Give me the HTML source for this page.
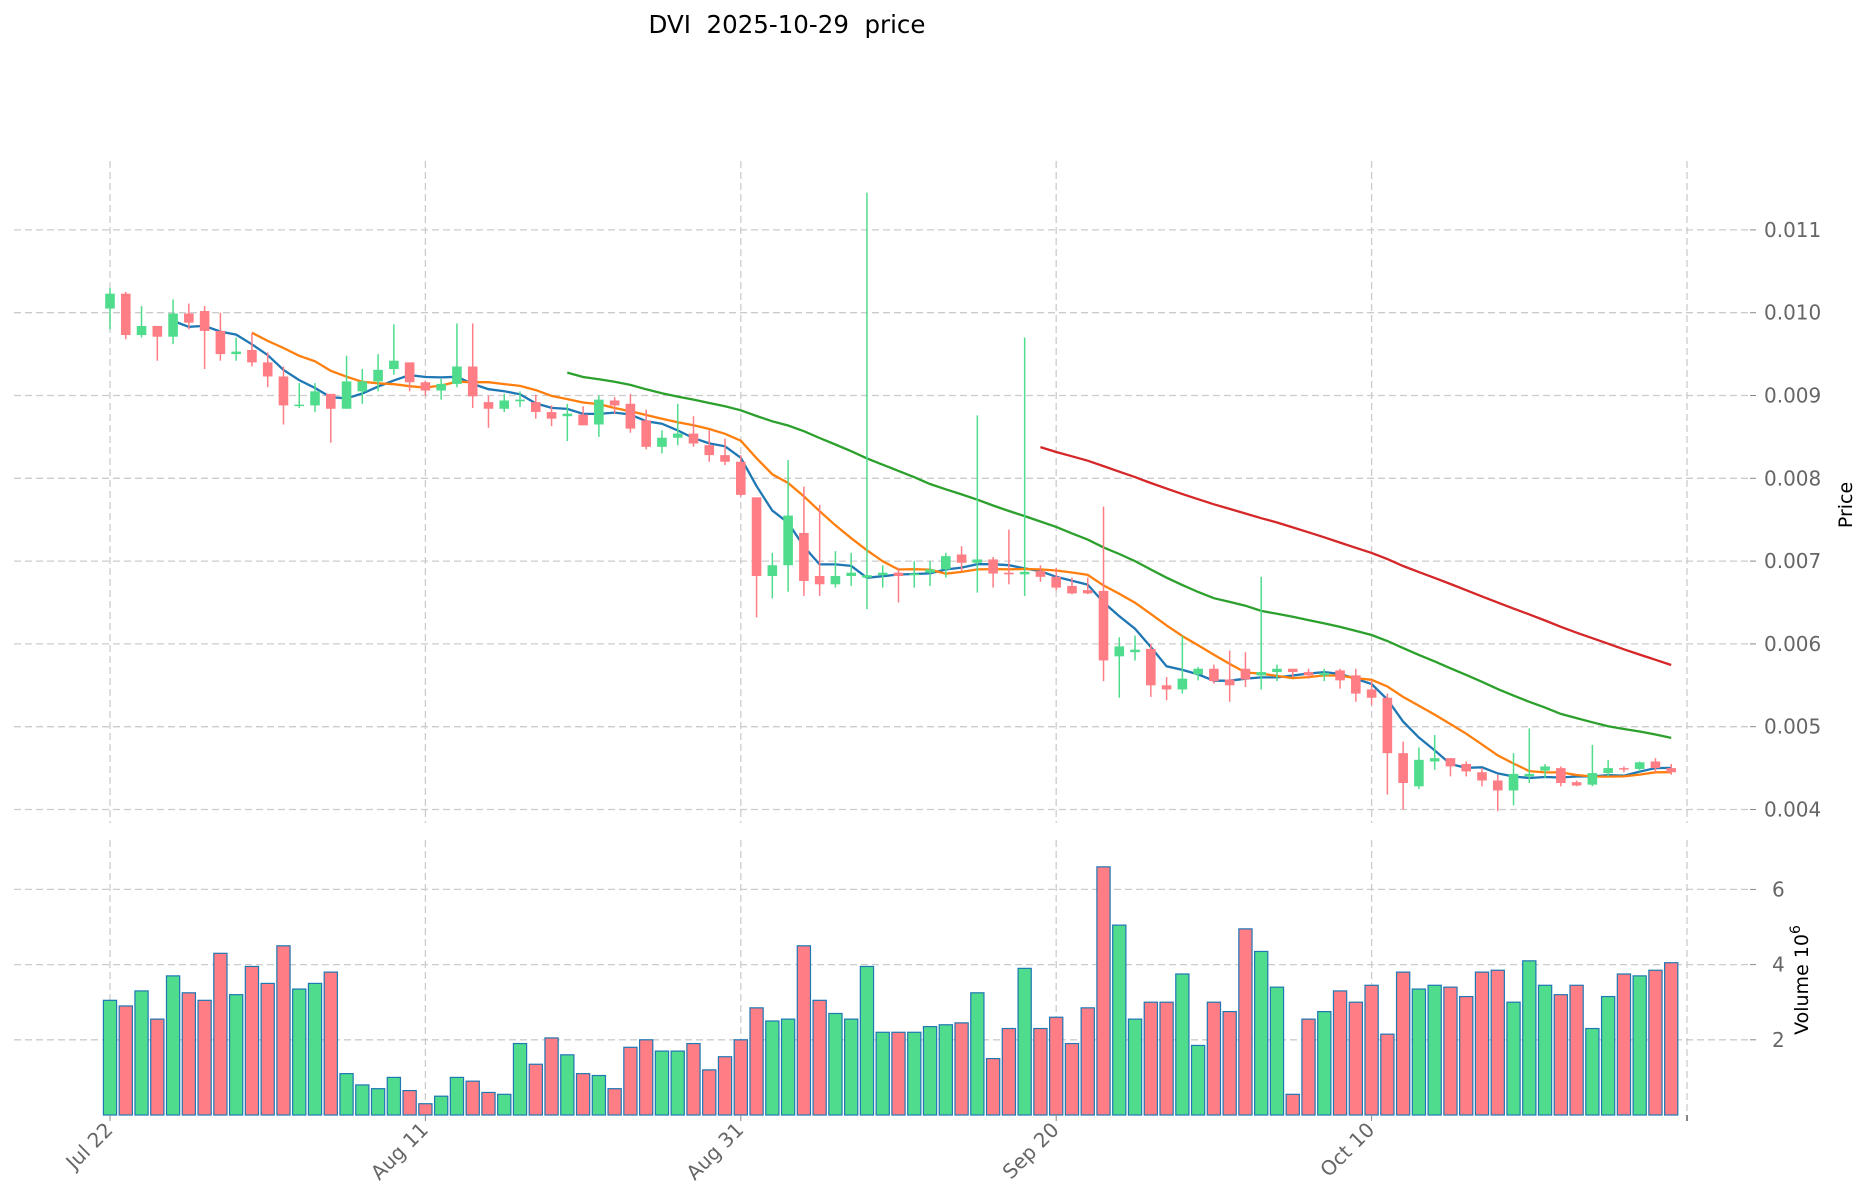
<!DOCTYPE html>
<html><head><meta charset="utf-8">
<style>
html,body{margin:0;padding:0;background:#fff;}
svg{display:block;font-family:"DejaVu Sans","Liberation Sans",sans-serif;}
</style></head>
<body>
<svg id="chart" width="1860" height="1202" viewBox="0 0 1860 1202" xmlns="http://www.w3.org/2000/svg">
<text x="787" y="33" font-size="24.5" text-anchor="middle" fill="#000" style="white-space:pre" xml:space="preserve">DVI  2025-10-29  price</text>
<g id="grid"></g>
<g id="ma"></g>
<g id="candles"></g>
<g id="vol"></g>
<g id="axes"></g>
<text transform="translate(1852,505) rotate(-90)" font-size="19" text-anchor="middle" fill="#000">Price</text>
<text transform="translate(1808,980) rotate(-90)" font-size="19" text-anchor="middle" fill="#000">Volume  10<tspan dy="-8" font-size="14">6</tspan></text>
</svg>
<script>
const dateLabels=["Jul 22","Aug 11","Aug 31","Sep 20","Oct 10"];
const dateLabelIdx=[0,20,40,60,80];
const opens=[.01005,.01023,.00973,.00984,.00971,.00999,.01002,.00978,.00950,.00955,.00940,.00923,.00888,.00888,.00902,.00884,.00905,.00917,.00932,.00940,.00916,.00906,.00914,.00935,.00892,.00884,.00893,.00892,.00880,.00875,.00877,.00865,.00894,.00890,.00870,.00838,.00849,.00854,.00840,.00828,.00820,.00777,.00682,.00695,.00734,.00682,.00672,.00682,.00680,.00683,.00686,.00683,.00686,.00690,.00708,.00698,.00702,.00686,.00684,.00688,.00681,.00670,.00665,.00664,.00585,.00590,.00594,.00550,.00545,.00563,.00570,.00557,.00570,.00562,.00566,.00570,.00566,.00562,.00568,.00562,.00545,.00535,.00468,.00428,.00458,.00462,.00455,.00445,.00435,.00423,.00440,.00447,.00450,.00433,.00430,.00444,.00450,.00449,.00458,.00450];
const closes=[.01023,.00973,.00984,.00971,.00999,.00988,.00978,.00950,.00953,.00940,.00923,.00888,.00889,.00905,.00884,.00917,.00917,.00931,.00942,.00916,.00906,.00914,.00935,.00899,.00884,.00894,.00895,.00880,.00872,.00878,.00864,.00895,.00888,.00860,.00838,.00849,.00854,.00842,.00828,.00820,.00780,.00682,.00695,.00755,.00676,.00672,.00682,.00686,.00683,.00686,.00682,.00685,.00690,.00706,.00698,.00702,.00685,.00684,.00687,.00681,.00668,.00661,.00661,.00580,.00597,.00593,.00550,.00545,.00558,.00570,.00555,.00550,.00557,.00566,.00570,.00566,.00562,.00565,.00556,.00540,.00535,.00468,.00432,.00460,.00462,.00452,.00446,.00435,.00423,.00443,.00443,.00452,.00432,.00429,.00444,.00450,.00449,.00457,.00450,.00445];
const highs=[.01030,.01025,.01008,.00984,.01016,.01011,.01008,.01000,.00970,.00975,.00952,.00935,.00915,.00915,.00900,.00948,.00932,.00950,.00986,.00940,.00918,.00920,.00987,.00987,.00900,.00902,.00905,.00901,.00888,.00890,.00887,.00900,.00898,.00902,.00883,.00858,.00890,.00875,.00858,.00848,.00828,.00777,.00710,.00822,.00790,.00768,.00712,.00710,.01145,.00695,.00692,.00700,.00700,.00710,.00718,.00876,.00705,.00738,.00970,.00695,.00692,.00680,.00680,.00766,.00608,.00610,.00600,.00560,.00610,.00572,.00575,.00592,.00590,.00681,.00575,.00570,.00570,.00570,.00570,.00570,.00556,.00540,.00482,.00475,.00490,.00462,.00458,.00450,.00442,.00468,.00498,.00455,.00452,.00435,.00478,.00460,.00452,.00458,.00462,.00455];
const lows=[.00980,.00968,.00970,.00942,.00962,.00980,.00932,.00942,.00942,.00935,.00910,.00865,.00885,.00880,.00843,.00884,.00890,.00905,.00925,.00905,.00900,.00895,.00910,.00885,.00861,.00880,.00886,.00872,.00863,.00845,.00864,.00850,.00878,.00855,.00835,.00830,.00840,.00838,.00820,.00816,.00778,.00632,.00655,.00663,.00658,.00658,.00668,.00670,.00642,.00668,.00650,.00668,.00670,.00680,.00688,.00662,.00668,.00672,.00658,.00675,.00665,.00660,.00660,.00555,.00535,.00580,.00536,.00532,.00540,.00556,.00552,.00530,.00548,.00545,.00555,.00560,.00558,.00555,.00546,.00530,.00526,.00418,.00400,.00425,.00448,.00440,.00440,.00428,.00398,.00405,.00432,.00438,.00428,.00428,.00428,.00440,.00445,.00446,.00445,.00442];
const volumes=[3.05,2.9,3.3,2.55,3.7,3.25,3.05,4.3,3.2,3.95,3.5,4.5,3.35,3.5,3.8,1.1,0.8,0.7,1.0,0.65,0.3,0.5,1.0,0.9,0.6,0.55,1.9,1.35,2.05,1.6,1.1,1.05,0.7,1.8,2.0,1.7,1.7,1.9,1.2,1.55,2.0,2.85,2.5,2.55,4.5,3.05,2.7,2.55,3.95,2.2,2.2,2.2,2.35,2.4,2.45,3.25,1.5,2.3,3.9,2.3,2.6,1.9,2.85,6.6,5.05,2.55,3.0,3.0,3.75,1.85,3.0,2.75,4.95,4.35,3.4,0.55,2.55,2.75,3.3,3.0,3.45,2.15,3.8,3.35,3.45,3.4,3.15,3.8,3.85,3.0,4.1,3.45,3.2,3.45,2.3,3.15,3.75,3.7,3.85,4.05];
const priceTicks=[0.004,0.005,0.006,0.007,0.008,0.009,0.010,0.011];
const volTicks=[2,4,6];
const maWindows=[5,10,30,60];
const maColors=["#1f77b4","#ff7f0e","#2ca02c","#d62728"];

const NS="http://www.w3.org/2000/svg";
const X=i=>110+i*15.77;
const PY=p=>809.5-(p-0.004)*82800;
const VY=v=>1115-v*37.6;
const L=14,R=1750,PT=161,PB=823,VT=840,VB=1115;
function mk(tag,attrs,parent){const e=document.createElementNS(NS,tag);for(const k in attrs)e.setAttribute(k,attrs[k]);parent.appendChild(e);return e;}
const grid=document.getElementById('grid'),axes=document.getElementById('axes');
const G="#cccccc";
priceTicks.forEach((t,k)=>{
  const y=PY(t);
  const l=mk('line',{x1:L,x2:R,y1:y,y2:y,stroke:G,'stroke-width':1.3,'stroke-dasharray':'7,4'},grid);
  
  
  mk('line',{x1:R,x2:R+6,y1:y,y2:y,stroke:'#888','stroke-width':1},axes);
  const tx=mk('text',{x:R+14,y:y+7,'font-size':20,fill:'#666'},axes);
  tx.textContent=t.toFixed(3);
  
  
});
volTicks.forEach(t=>{
  const y=VY(t);
  const l=mk('line',{x1:L,x2:R,y1:y,y2:y,stroke:G,'stroke-width':1.3,'stroke-dasharray':'7,4'},grid);
  
  
  mk('line',{x1:R,x2:R+6,y1:y,y2:y,stroke:'#888','stroke-width':1},axes);
  const tx=mk('text',{x:R+22,y:y+7,'font-size':20,fill:'#666'},axes);
  tx.textContent=t;
  
  
});
dateLabelIdx.forEach((d,k)=>{
  const x=X(d);
  mk('line',{x1:x,x2:x,y1:PT,y2:PB,stroke:G,'stroke-width':1.3,'stroke-dasharray':'7,4'},grid);
  mk('line',{x1:x,x2:x,y1:VT,y2:VB,stroke:G,'stroke-width':1.3,'stroke-dasharray':'7,4'},grid);
  mk('line',{x1:x,x2:x,y1:VB,y2:VB+6,stroke:'#888','stroke-width':1},axes);
  const tx=mk('text',{x:x+4,y:VB+16,'font-size':20,fill:'#666','text-anchor':'end',transform:`rotate(-45 ${x+4} ${VB+16})`},axes);
  tx.textContent=dateLabels[k];
  
  
});
{const x=X(100);mk('line',{x1:x,x2:x,y1:PT,y2:PB,stroke:G,'stroke-width':1.3,'stroke-dasharray':'7,4'},grid);
mk('line',{x1:x,x2:x,y1:VT,y2:VB,stroke:G,'stroke-width':1.3,'stroke-dasharray':'7,4'},grid);
mk('line',{x1:x,x2:x,y1:VB,y2:VB+6,stroke:'#333','stroke-width':1.2},axes);}

const UP="#4fdc8c",DN="#ff7d84";
const cg=document.getElementById('candles'),vg=document.getElementById('vol'),mg=document.getElementById('ma');
closes.forEach((c,i)=>{
  const o=opens[i],up=c>=o,col=up?UP:DN,x=X(i);
  const w=mk('line',{x1:x,x2:x,y1:PY(highs[i]),y2:PY(lows[i]),stroke:col,'stroke-width':1.5},cg);
  
  
  const top=PY(Math.max(o,c)),h=Math.max(1.5,PY(Math.min(o,c))-top);
  const b=mk('rect',{x:x-4.8,y:top,width:9.6,height:h,fill:col},cg);
  
  
  const vy=VY(volumes[i]);
  const v=mk('rect',{x:x-6.6,y:vy,width:13.2,height:VB-vy,fill:col,stroke:'#1f77b4','stroke-width':1.2},vg);
  
  
});
maWindows.forEach((w,k)=>{
  let pts=[];
  for(let i=w-1;i<closes.length;i++){let s=0;for(let j=i-w+1;j<=i;j++)s+=closes[j];pts.push(X(i).toFixed(1)+','+PY(s/w).toFixed(1));}
  const p=mk('polyline',{points:pts.join(' '),fill:'none',stroke:maColors[k],'stroke-width':2.3},mg);
  
  
});
</script>
</body></html>
